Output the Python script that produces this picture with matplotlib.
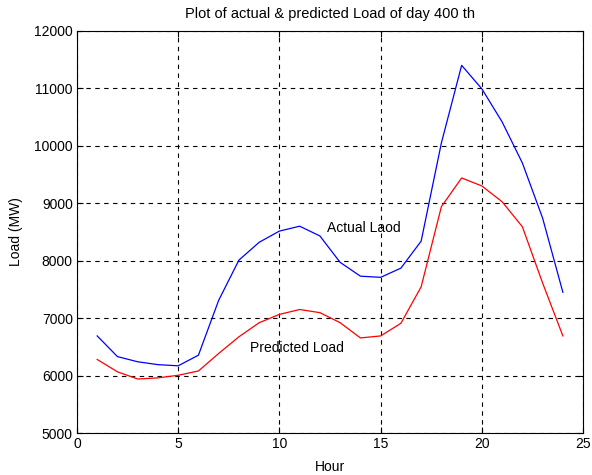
import matplotlib
matplotlib.use('Agg')
import matplotlib.pyplot as plt

hours = list(range(1, 25))
actual = [6690, 6330, 6240, 6190, 6170, 6355, 7310, 8010, 8320, 8515, 8600, 8430,
          7970, 7730, 7710, 7870, 8340, 10050, 11400, 10990, 10415, 9700, 8740, 7450]
predicted = [6280, 6065, 5940, 5960, 6005, 6080, 6385, 6675, 6920, 7065, 7150, 7095,
             6920, 6655, 6690, 6910, 7545, 8940, 9440, 9300, 9025, 8590, 7610, 6690]

plt.rcParams['font.family'] = ['Liberation Sans', 'DejaVu Sans']
plt.rcParams['font.size'] = 10

fig = plt.figure(figsize=(5.92, 4.75), dpi=100)
ax = fig.add_axes([0.130, 0.0884, 0.855, 0.8466])
ax.plot(hours, actual, color='blue', linewidth=0.9)
ax.plot(hours, predicted, color='red', linewidth=0.9)
ax.text(12.35, 8570, 'Actual Laod', va='center')
ax.text(8.55, 6480, 'Predicted Load', va='center')

ax.set_xlim(0, 25)
ax.set_ylim(5000, 12000)
ax.set_xticks([0, 5, 10, 15, 20, 25])
ax.set_yticks(range(5000, 12001, 1000))
ax.grid(True, color='black', linestyle=(0, (4, 4)), linewidth=0.8)
ax.tick_params(direction='in', top=True, right=True, length=4, pad=3)
ax.set_xlabel('Hour', labelpad=6)
ax.set_ylabel('Load (MW)', labelpad=8)
ax.set_title('Plot of actual & predicted Load of day 400 th', fontsize=10.5, pad=9)
fig.savefig('out.png', dpi=100)
